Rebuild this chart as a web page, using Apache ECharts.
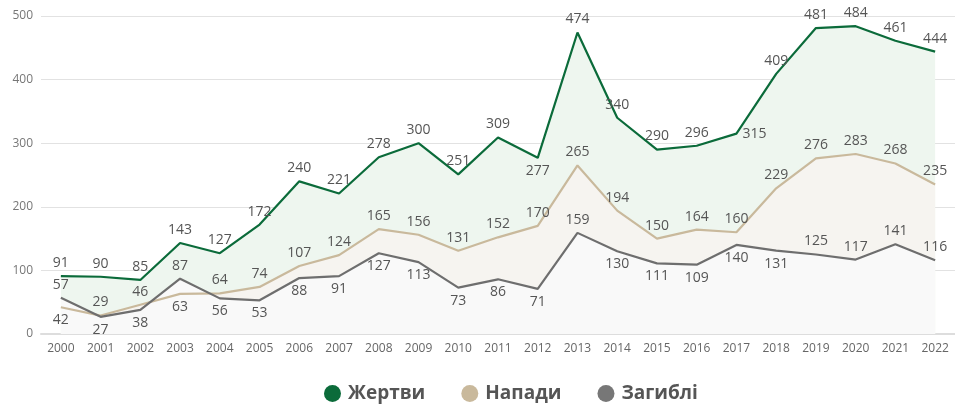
<!DOCTYPE html>
<html><head><meta charset="utf-8">
<script src="https://cdn.jsdelivr.net/npm/echarts@6/dist/echarts.min.js"></script>
<style>html,body{margin:0;padding:0;background:#fff}#c{width:955px;height:404px}</style>
</head><body><div id="c"></div>
<script>
const years = ['2000','2001','2002','2003','2004','2005','2006','2007','2008','2009','2010','2011','2012','2013','2014','2015','2016','2017','2018','2019','2020','2021','2022'];
const victims = [91,90,85,143,127,172,240,221,278,300,251,309,277,474,340,290,296,315,409,481,484,461,444];
const attacks = [42,29,46,63,64,74,107,124,165,156,131,152,170,265,194,150,164,160,229,276,283,268,235];
const deaths  = [57,27,38,87,56,53,88,91,127,113,73,86,71,159,130,111,109,140,131,125,117,141,116];
const victimsLabelPos = ['top','top','top','top','top','top','top','top','top','top','top','top','bottom','top','top','top','top','right','top','top','top','top','top'];
const attacksLabelPos = ['bottom','top','top','bottom','top','top','top','top','top','top','top','top','top','top','top','top','top','top','top','top','top','top','top'];
const deathsLabelPos  = ['top','bottom','bottom','top','bottom','bottom','bottom','bottom','bottom','bottom','bottom','bottom','bottom','top','bottom','bottom','bottom','bottom','bottom','top','top','top','top'];

const FONT = '"Open Sans", sans-serif';
function areaSeries(vals, area, z) {
  return {
    name: '_area' + z, type: 'line', z: z, data: vals,
    symbol: 'none', lineStyle: { width: 0, opacity: 0 },
    areaStyle: { color: area, opacity: 1 },
    silent: true, emphasis: { disabled: true }, animation: false
  };
}
function lineSeries(name, vals, pos, color, z) {
  return {
    name: name, type: 'line', z: z,
    data: vals.map((v, i) => ({ value: v, label: { position: pos[i] } })),
    symbol: 'circle', symbolSize: 0.1, showSymbol: true,
    lineStyle: { color: color, width: 2.2 },
    itemStyle: { color: color },
    label: { show: true, color: '#555', fontSize: 14, fontFamily: FONT, distance: 6 },
    emphasis: { disabled: true },
    animation: false
  };
}
const chart = echarts.init(document.getElementById('c'));
chart.setOption({
  backgroundColor: '#fff',
  animation: false,
  grid: { left: 41, top: 16, width: 917, bottom: 70, containLabel: false },
  legend: {
    top: 382, left: 322, itemGap: 36, padding: 2,
    icon: 'circle', itemWidth: 17, itemHeight: 17,
    textStyle: { fontSize: 19, fontWeight: 'bold', color: '#555', fontFamily: FONT, padding: [0, 0, 0, 2] },
    data: [
      { name: 'Жертви', itemStyle: { color: '#0b6b3a' } },
      { name: 'Напади', itemStyle: { color: '#c9b99c' } },
      { name: 'Загиблі', itemStyle: { color: '#777' } }
    ]
  },
  xAxis: {
    type: 'category', data: years, boundaryGap: true,
    axisLine: { show: true, lineStyle: { color: '#ddd', width: 2 } },
    axisTick: { show: false },
    axisLabel: { color: '#666', fontSize: 12, fontFamily: FONT, margin: 9 }
  },
  yAxis: {
    type: 'value', min: 0, max: 500, interval: 100,
    axisLine: { show: false }, axisTick: { show: false },
    axisLabel: { color: '#777', fontSize: 12, fontFamily: FONT, margin: 8 },
    splitLine: { lineStyle: { color: '#e2e2e2', width: 1 } }
  },
  series: [
    areaSeries(victims, '#eef6ef', 1),
    areaSeries(attacks, '#f6f4f0', 2),
    areaSeries(deaths, '#f9f9f9', 3),
    lineSeries('Жертви', victims, victimsLabelPos, '#0b6b3a', 5),
    lineSeries('Напади', attacks, attacksLabelPos, '#c9b99c', 6),
    lineSeries('Загиблі', deaths, deathsLabelPos, '#6e6e6e', 7)
  ]
});
</script></body></html>
